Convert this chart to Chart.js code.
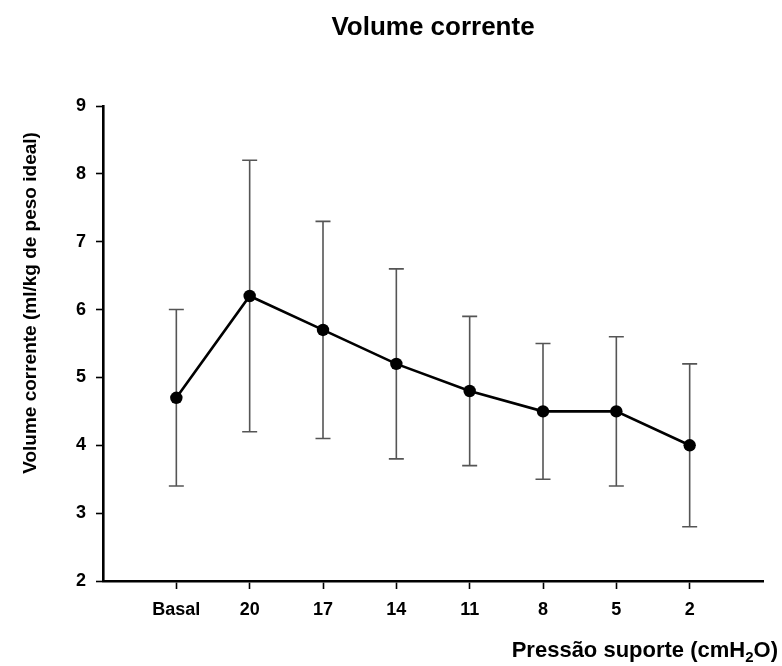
<!DOCTYPE html>
<html>
<head>
<meta charset="utf-8">
<title>Volume corrente</title>
<script src="https://cdn.jsdelivr.net/npm/chart.js@4.4.1/dist/chart.umd.min.js"></script>
<style>
    body { margin: 0; background: #fff; }
    canvas { display: block; }
</style>
</head>
<body>
<canvas id="chart" width="782" height="666"></canvas>
<script>
// chart data
const categories = ["Basal", "20", "17", "14", "11", "8", "5", "2"];
const meanValues = [4.7, 6.2, 5.7, 5.2, 4.8, 4.5, 4.5, 4.0];
const upperValues = [6.0, 8.2, 7.3, 6.6, 5.9, 5.5, 5.6, 5.2];
const lowerValues = [3.4, 4.2, 4.1, 3.8, 3.7, 3.5, 3.4, 2.8];
const yTicks = [2, 3, 4, 5, 6, 7, 8, 9];

const FONT = '"Liberation Sans", Arial, sans-serif';

/**
 * Draws the vertical error bars with caps, behind the line and markers.
 */
const errorBars = {
    id: "errorBars",
    beforeDatasetsDraw(chart) {
        const ctx = chart.ctx;
        const xs = chart.scales.x;
        const ys = chart.scales.y;
        ctx.save();
        ctx.strokeStyle = "#555";
        ctx.lineWidth = 1.6;
        for (let i = 0; i < categories.length; i++) {
            const x = xs.getPixelForValue(i + 1);
            const top = ys.getPixelForValue(upperValues[i]);
            const bottom = ys.getPixelForValue(lowerValues[i]);
            ctx.beginPath();
            ctx.moveTo(x, top);
            ctx.lineTo(x, bottom);
            ctx.moveTo(x - 7.5, top);
            ctx.lineTo(x + 7.5, top);
            ctx.moveTo(x - 7.5, bottom);
            ctx.lineTo(x + 7.5, bottom);
            ctx.stroke();
        }
        ctx.restore();
    }
};

/**
 * Title and axis titles, placed like in the original figure.
 */
const titles = {
    id: "titles",
    afterDraw(chart) {
        const ctx = chart.ctx;
        ctx.save();
        ctx.fillStyle = "#000";

        // main title
        ctx.font = "bold 26px " + FONT;
        ctx.textAlign = "center";
        ctx.textBaseline = "alphabetic";
        ctx.fillText("Volume corrente", 433, 35);

        // y title
        ctx.save();
        ctx.translate(36, 303);
        ctx.rotate(-Math.PI / 2);
        ctx.font = "bold 19px " + FONT;
        ctx.fillText("Volume corrente (ml/kg de peso ideal)", 0, 0);
        ctx.restore();

        // x title with subscript 2
        const part1 = "Pressão suporte (cmH";
        const sub = "2";
        const part2 = "O)";
        const bigFont = "bold 22px " + FONT;
        const smallFont = "bold 15px " + FONT;
        ctx.textAlign = "left";
        ctx.font = bigFont;
        const w1 = ctx.measureText(part1).width;
        const w3 = ctx.measureText(part2).width;
        ctx.font = smallFont;
        const w2 = ctx.measureText(sub).width;
        const right = 778;
        const baseline = 657;
        let x = right - (w1 + w2 + w3);
        ctx.font = bigFont;
        ctx.fillText(part1, x, baseline);
        x += w1;
        ctx.font = smallFont;
        ctx.fillText(sub, x, baseline + 5);
        x += w2;
        ctx.font = bigFont;
        ctx.fillText(part2, x, baseline);

        ctx.restore();
    }
};

function buildChart() {
    const chartElement = document.getElementById("chart");

    const points = [];
    for (let i = 0; i < categories.length; i++) {
        points.push({ x: i + 1, y: meanValues[i] });
    }

    new Chart(chartElement, {
        type: "line",
        plugins: [errorBars, titles],
        data: {
            datasets: [{
                data: points,
                borderColor: "#000",
                backgroundColor: "#000",
                borderWidth: 2.6,
                pointRadius: 6.2,
                pointBorderWidth: 0,
                pointBackgroundColor: "#000",
                tension: 0
            }]
        },
        options: {
            responsive: false,
            animation: false,
            layout: {
                padding: { top: 106, right: 19, left: 0, bottom: 0 }
            },
            scales: {
                x: {
                    type: "linear",
                    min: 0,
                    max: 9,
                    afterBuildTicks: scale => {
                        scale.ticks = categories.map((c, i) => ({ value: i + 1 }));
                    },
                    afterFit: scale => { scale.height = 85; },
                    ticks: {
                        callback: value => categories[value - 1],
                        color: "#000",
                        font: { family: FONT, size: 18, weight: "bold" },
                        padding: 10,
                        maxRotation: 0,
                        autoSkip: false
                    },
                    grid: {
                        drawOnChartArea: false,
                        color: "#000",
                        tickLength: 8,
                        tickWidth: 1.6
                    },
                    border: { color: "#000", width: 2.6 }
                },
                y: {
                    min: 2,
                    max: 9,
                    afterBuildTicks: scale => {
                        scale.ticks = yTicks.map(v => ({ value: v }));
                    },
                    afterFit: scale => { scale.width = 103; },
                    ticks: {
                        color: "#000",
                        font: { family: FONT, size: 18, weight: "bold" },
                        padding: 10
                    },
                    grid: {
                        drawOnChartArea: false,
                        color: "#000",
                        tickLength: 7,
                        tickWidth: 1.6
                    },
                    border: { color: "#000", width: 2.6 }
                }
            },
            plugins: {
                legend: { display: false },
                tooltip: { enabled: false }
            }
        }
    });
}

buildChart();
</script>
</body>
</html>
